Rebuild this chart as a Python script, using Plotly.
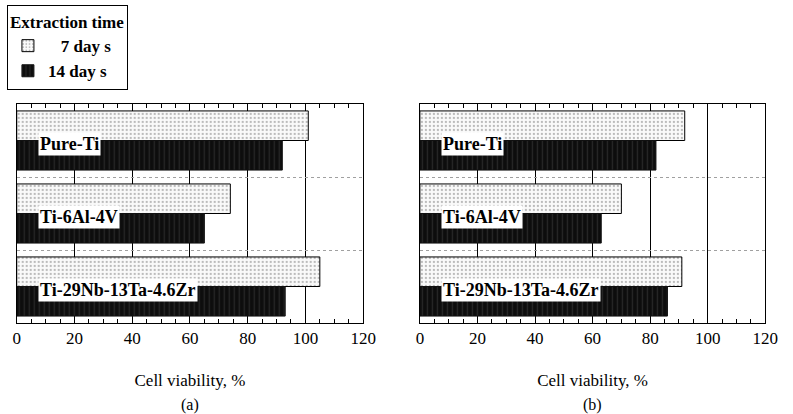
import plotly.graph_objects as go

# Data
alloys = ["Pure-Ti", "Ti-6Al-4V", "Ti-29Nb-13Ta-4.6Zr"]
series_names = ["7 day s", "14 day s"]
viability_a_7d = [101, 74, 105]
viability_a_14d = [92, 65, 93]
viability_b_7d = [92, 70, 91]
viability_b_14d = [82, 63, 86]
panel_labels = ["(a)", "(b)"]
axis_title = "Cell viability, %"

SERIF = "Liberation Serif, serif"
NBSP = "\u00a0"

light_marker = dict(
    color="white",
    line=dict(color="black", width=1),
    pattern=dict(shape=".", fgcolor="#7a7a7a", bgcolor="#fafafa", size=4, solidity=0.25),
)
dark_marker = dict(
    color="#111111",
    line=dict(color="#111111", width=1),
    pattern=dict(shape="|", fgcolor="#444444", bgcolor="#0d0d0d", size=5, solidity=0.25),
)

# legend entries are right-aligned by padding the shorter name
legend_names = [NBSP * 3 + series_names[0], series_names[1]]

fig = go.Figure()
panels = [("x", "y", viability_a_7d, viability_a_14d, True),
          ("x2", "y2", viability_b_7d, viability_b_14d, False)]
for xa, ya, v7, v14, show in panels:
    fig.add_trace(go.Bar(y=alloys, x=v7, orientation="h", name=legend_names[0],
                         marker=light_marker, xaxis=xa, yaxis=ya, showlegend=show))
    fig.add_trace(go.Bar(y=alloys, x=v14, orientation="h", name=legend_names[1],
                         marker=dark_marker, xaxis=xa, yaxis=ya, showlegend=show))

x_common = dict(
    range=[0, 120], dtick=20,
    showline=True, linecolor="black", linewidth=1, mirror="allticks",
    ticks="inside", ticklen=5, tickcolor="black", tickwidth=1,
    minor=dict(ticks="inside", ticklen=4, dtick=5, tickcolor="black"),
    showgrid=True, gridcolor="black", gridwidth=1,
    zeroline=False,
    tickfont=dict(family=SERIF, size=17, color="black"),
    title=dict(text=axis_title, font=dict(family=SERIF, size=17, color="black"), standoff=26),
)
y_common = dict(
    autorange="reversed", showticklabels=False, ticks="",
    tickson="boundaries", showgrid=True, gridcolor="#a0a0a0", griddash="dot", gridwidth=1,
    showline=True, linecolor="black", linewidth=1, mirror=True, zeroline=False,
)

fig.update_layout(
    width=793, height=414,
    margin=dict(l=0, r=0, t=0, b=0),
    paper_bgcolor="white", plot_bgcolor="white",
    barmode="group", bargap=0.19, bargroupgap=0.0,
    xaxis=dict(domain=[13 / 793, 367 / 793], anchor="y", **x_common),
    yaxis=dict(domain=[1 - 323 / 414, 1 - 104 / 414], anchor="x", **y_common),
    xaxis2=dict(domain=[425 / 793, 778 / 793], anchor="y2", **x_common),
    yaxis2=dict(domain=[1 - 323 / 414, 1 - 104 / 414], anchor="x2", **y_common),
    legend=dict(
        x=3 / 793, y=1 - 5 / 414, xanchor="left", yanchor="top",
        bordercolor="black", borderwidth=1, bgcolor="white",
        title=dict(text="<b>Extraction time</b>", side="top",
                   font=dict(family=SERIF, size=17, color="black")),
        font=dict(family=SERIF, size=17, color="black", weight="bold"),
        itemwidth=30, tracegroupgap=0,
    ),
    font=dict(family=SERIF, color="black"),
)

# Category labels sit in white boxes across each pair of bars
for xa, ya in [("x", "y"), ("x2", "y2")]:
    for name in alloys:
        fig.add_annotation(
            x=0.062, xref=f"{xa} domain", y=name, yref=ya,
            text=f"<b>{name}</b>", showarrow=False,
            xanchor="left", yanchor="middle", yshift=-3,
            bgcolor="white", borderpad=1,
            font=dict(family=SERIF, size=18, color="black"),
        )

for label, cx in zip(panel_labels, [190 / 793, 601 / 793]):
    fig.add_annotation(
        x=cx, y=1 - 405 / 414, xref="paper", yref="paper",
        text=label, showarrow=False, xanchor="center", yanchor="middle",
        font=dict(family=SERIF, size=16, color="black"),
    )

fig.write_html("out.html")
